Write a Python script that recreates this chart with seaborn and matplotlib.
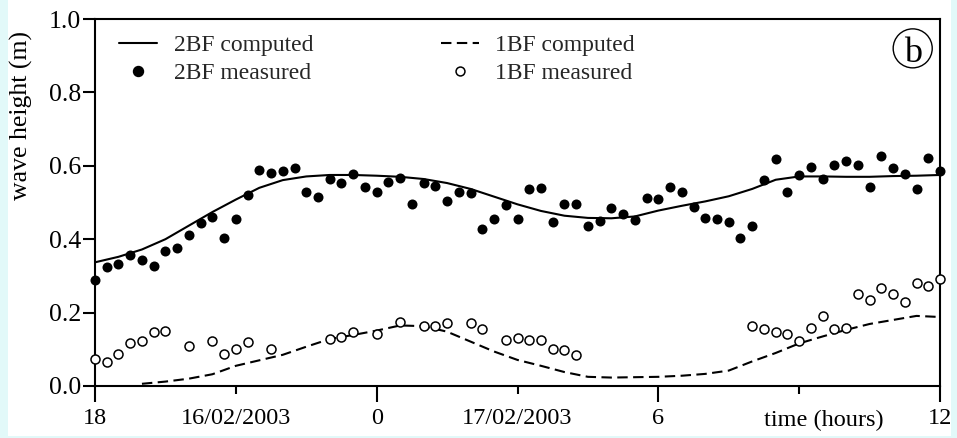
import numpy as np
import pandas as pd
import matplotlib
matplotlib.use("Agg")
import matplotlib.pyplot as plt
from matplotlib.lines import Line2D
from matplotlib.patches import Rectangle, Ellipse
import seaborn as sns

# Measurement grid: every 15 minutes, hours counted from 00:00 on 15/02/2003
meas_hours = np.arange(18.0, 36.0 + 1e-9, 0.25)

# Wave height measured at breakwater 2 (m)
h2_measured = [
    0.288, 0.323, 0.332, 0.357, 0.343, 0.328, 0.367, 0.375, 0.411, 0.443,
    0.461, 0.404, 0.454, 0.520, 0.589, 0.581, 0.586, 0.593, 0.529, 0.516,
    0.565, 0.553, 0.578, 0.541, 0.529, 0.557, 0.566, 0.497, 0.553, 0.545,
    0.505, 0.529, 0.525, 0.428, 0.454, 0.493, 0.454, 0.537, 0.540, 0.447,
    0.497, 0.497, 0.436, 0.450, 0.486, 0.469, 0.451, 0.513, 0.510, 0.541,
    0.529, 0.489, 0.459, 0.454, 0.448, 0.404, 0.436, 0.561, 0.618, 0.529,
    0.574, 0.598, 0.565, 0.602, 0.613, 0.601, 0.541, 0.627, 0.594, 0.578,
    0.537, 0.621, 0.585,
]

# Wave height measured at breakwater 1 (m); NaN where no record
nan = np.nan
h1_measured = [
    0.074, 0.065, 0.086, 0.118, 0.122, 0.146, 0.151, nan, 0.110, nan,
    0.122, 0.086, 0.102, 0.119, nan, 0.102, nan, nan, nan, nan,
    0.129, 0.133, 0.146, nan, 0.143, nan, 0.175, nan, 0.163, 0.163,
    0.172, nan, 0.172, 0.154, nan, 0.125, 0.130, 0.126, 0.126, 0.102,
    0.098, 0.085, nan, nan, nan, nan, nan, nan, nan, nan,
    nan, nan, nan, nan, nan, nan, 0.163, 0.154, 0.147, 0.143,
    0.122, 0.159, 0.192, 0.154, 0.158, 0.252, 0.235, 0.267, 0.252, 0.228,
    0.280, 0.272, 0.292,
]

# Model output, every 30 minutes
model_hours_2bf = np.arange(18.0, 36.0 + 1e-9, 0.5)
h2_computed = [
    0.337, 0.352, 0.372, 0.400, 0.437, 0.474, 0.508, 0.540, 0.561, 0.571,
    0.575, 0.575, 0.573, 0.570, 0.564, 0.553, 0.537, 0.516, 0.495, 0.477,
    0.464, 0.458, 0.457, 0.462, 0.478, 0.491, 0.503, 0.517, 0.537, 0.562,
    0.571, 0.571, 0.570, 0.570, 0.572, 0.573, 0.575,
]
model_hours_1bf = np.arange(19.0, 36.0 + 1e-9, 0.5)
h1_computed = [
    0.006, 0.012, 0.020, 0.032, 0.055, 0.070, 0.085, 0.107, 0.128, 0.139,
    0.151, 0.165, 0.163, 0.148, 0.121, 0.094, 0.071, 0.055, 0.038, 0.025,
    0.023, 0.024, 0.025, 0.028, 0.033, 0.042, 0.067, 0.090, 0.116, 0.135,
    0.153, 0.169, 0.180, 0.191, 0.188,
]

major_ticks = [18, 24, 30, 36]
major_labels = ["18", "0", "6", "12"]
minor_ticks = [21, 27, 33]
minor_labels = ["16/02/2003", "17/02/2003", ""]
y_ticks = [0.0, 0.2, 0.4, 0.6, 0.8, 1.0]

meas = pd.DataFrame({"hours": meas_hours, "h2": h2_measured, "h1": h1_measured})
comp2 = pd.DataFrame({"hours": model_hours_2bf, "h": h2_computed})
comp1 = pd.DataFrame({"hours": model_hours_1bf, "h": h1_computed})

sns.set_theme(style="ticks")
plt.rcParams["font.family"] = ["Liberation Serif", "DejaVu Serif"]

fig = plt.figure(figsize=(9.57, 4.38), dpi=100)
fig.patch.set_facecolor("#e2f9f9")
fig.patches.append(Rectangle((8 / 957, 2 / 438), 943 / 957, 436 / 438,
                             transform=fig.transFigure, facecolor="white",
                             edgecolor="none", zorder=-1))
ax = fig.add_axes([95 / 957, 1 - 386 / 438, 845 / 957, 367 / 438])
ax.set_facecolor("white")

dash = (0, (5, 2.6))
sns.lineplot(data=comp2, x="hours", y="h", ax=ax, color="black", lw=1.5)
sns.lineplot(data=comp1, x="hours", y="h", ax=ax, color="black", lw=1.5,
             linestyle=dash)
sns.scatterplot(data=meas, x="hours", y="h2", ax=ax, color="black", s=52,
                edgecolor="black", linewidth=0, clip_on=False, zorder=3)
sns.scatterplot(data=meas.dropna(subset=["h1"]), x="hours", y="h1", ax=ax,
                facecolor="white", edgecolor="black", s=42, linewidth=1.1,
                clip_on=False, zorder=3)

ax.set_xlim(18, 36)
ax.set_ylim(0, 1.0)
ax.set_xticks(major_ticks)
ax.set_xticklabels(major_labels)
ax.set_xticks(minor_ticks, minor=True)
ax.set_xticklabels(minor_labels, minor=True)
ax.set_yticks(y_ticks)
ax.set_yticklabels([f"{v:.1f}" for v in y_ticks])

for side in ["left", "right", "top", "bottom"]:
    ax.spines[side].set_visible(True)
    ax.spines[side].set_linewidth(1.5)
    ax.spines[side].set_color("black")

ax.tick_params(axis="x", which="major", length=11.5, width=1.5, pad=4.3,
               direction="out", labelsize=17.5, colors="black")
ax.tick_params(axis="x", which="minor", length=5.8, width=1.5, pad=10,
               direction="out", labelsize=17.5, colors="black")
ax.tick_params(axis="y", which="major", length=8.6, width=1.5, pad=1.5,
               direction="out", labelsize=18.5, colors="black")

ax.set_ylabel("wave height (m)", fontsize=18.5, color="black")
ax.yaxis.set_label_coords(-0.0735, 0.736)
ax.set_xlabel("time (hours)", fontsize=17.5, color="black")
ax.xaxis.set_label_coords(0.8626, -0.066)

handles = [
    Line2D([], [], color="black", lw=1.5),
    Line2D([], [], color="black", marker="o", linestyle="none", markersize=7.2),
    Line2D([], [], color="black", lw=1.5, linestyle=dash),
    Line2D([], [], color="black", marker="o", linestyle="none", markersize=6.4,
           markerfacecolor="white", markeredgewidth=1.1),
]
labels = ["2BF computed", "2BF measured", "1BF computed", "1BF measured"]
ax.legend(handles, labels, ncol=2, loc="upper left",
          bbox_to_anchor=(0.0284, 0.957), frameon=False, fontsize=17,
          handlelength=1.61, handletextpad=0.7, columnspacing=5.4,
          labelspacing=0.27, borderaxespad=0, borderpad=0, numpoints=1)

# Panel tag (b) in a circle
ax.add_patch(Ellipse((0.9677, 0.920), 2 * 19.5 / 844, 2 * 19.5 / 367,
                     transform=ax.transAxes, facecolor="none",
                     edgecolor="black", lw=1.0))
ax.text(0.9677, 0.918, "b", transform=ax.transAxes, ha="center",
        va="center_baseline", fontsize=26, color="black")

fig.savefig("out.png", dpi=100, facecolor=fig.get_facecolor())
